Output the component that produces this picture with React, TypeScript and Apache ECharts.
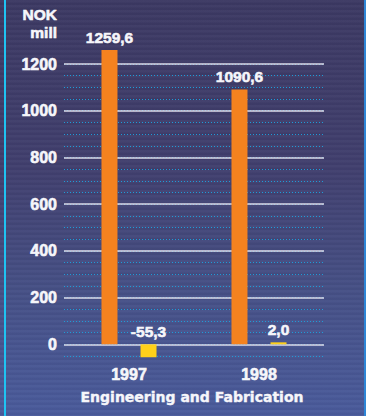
import React, { useEffect, useRef } from "react";
import * as echarts from "echarts";

// Engineering and Fabrication – operating result, NOK mill
const years = ["1997", "1998"];
const mainValues = [1259.6, 1090.6];
const secondValues = [-55.3, 2.0];
const majorTicks = [0, 200, 400, 600, 800, 1000, 1200];
const unitLines = ["NOK", "mill"];
const footerTitle = "Engineering and Fabrication";

const ORANGE = "#F4821F";
const YELLOW = "#FFD01A";
const WHITE = "#F6F6FA";
const NUM_FONT = "'Liberation Sans', Arial, sans-serif";

const fmt = (v: number) => v.toFixed(1).replace(".", ",");

// slightly heavier white lettering
const heavy = { textBorderColor: WHITE, textBorderWidth: 0.6 };

export default function App() {
  const ref = useRef<HTMLDivElement>(null);

  useEffect(() => {
    if (!ref.current) return;
    const chart = echarts.init(ref.current, null, { renderer: "svg" });

    const labelStyle = {
      show: true,
      position: "top" as const,
      distance: 5,
      color: WHITE,
      fontFamily: NUM_FONT,
      fontWeight: "bold" as const,
      fontSize: 15.5,
      ...heavy,
      formatter: (p: any) => fmt(p.value),
    };

    chart.setOption({
      animation: false,
      grid: { left: 64, right: 42, top: 64, bottom: 60, containLabel: false },
      xAxis: {
        type: "category",
        data: years,
        axisLine: { show: false, onZero: false },
        axisTick: { show: false },
        axisLabel: {
          color: WHITE,
          fontFamily: NUM_FONT,
          fontWeight: "bold",
          fontSize: 16,
          margin: 10,
          ...heavy,
        },
        splitLine: { show: false },
      },
      yAxis: {
        type: "value",
        min: -50,
        max: 1200,
        interval: 50,
        axisLine: { show: false },
        axisTick: { show: false },
        axisLabel: {
          color: WHITE,
          fontFamily: NUM_FONT,
          fontWeight: "bold",
          fontSize: 16,
          margin: 7,
          ...heavy,
          formatter: (v: number) => (majorTicks.includes(v) ? String(v) : ""),
        },
        splitLine: {
          show: true,
          lineStyle: { color: "#1E9CD8", width: 1, type: [1, 2] },
        },
      },
      series: [
        {
          type: "bar",
          data: mainValues,
          barWidth: 16,
          barGap: "144%",
          clip: false,
          itemStyle: { color: ORANGE },
          label: labelStyle,
          z: 3,
          markLine: {
            silent: true,
            symbol: "none",
            z: 1,
            label: { show: false },
            lineStyle: { color: "#DCDCEA", width: 1.5, type: "solid" },
            data: majorTicks.map((t) => ({ yAxis: t })),
          },
        },
        {
          type: "bar",
          data: secondValues,
          barWidth: 16,
          barMinHeight: 2,
          clip: false,
          itemStyle: { color: YELLOW },
          label: labelStyle,
          z: 3,
        },
      ],
      graphic: [
        { type: "rect", shape: { x: 4, y: 0, width: 2, height: 416 }, style: { fill: "#1FC3F2" } },
        { type: "rect", shape: { x: 364, y: 0, width: 2, height: 416 }, style: { fill: "#2E86D6" } },
        ...unitLines.map((t, i) => ({
          type: "text",
          x: 57,
          y: 14 + i * 18,
          style: {
            text: t,
            fill: WHITE,
            stroke: WHITE,
            lineWidth: 0.6,
            font: `bold 15.5px ${NUM_FONT}`,
            textAlign: "right",
            textVerticalAlign: "middle",
          },
        })),
        {
          type: "text",
          x: 192,
          y: 397,
          style: {
            text: footerTitle,
            fill: WHITE,
            stroke: WHITE,
            lineWidth: 0.4,
            font: "bold 14px 'DejaVu Sans', sans-serif",
            textAlign: "center",
            textVerticalAlign: "middle",
          },
        },
      ],
    });

    return () => chart.dispose();
  }, []);

  return (
    <div
      style={{
        position: "absolute",
        left: 0,
        top: 0,
        width: 366,
        height: 416,
        background:
          "repeating-linear-gradient(180deg, rgba(255,255,255,0.025) 0px, rgba(255,255,255,0.025) 2px, rgba(0,0,0,0.03) 3px, rgba(0,0,0,0.03) 5px), linear-gradient(180deg, #3C3963 0%, #413F6E 40%, #465086 70%, #4A5B9C 100%)",
      }}
    >
      <div ref={ref} style={{ width: 366, height: 416 }} />
    </div>
  );
}
